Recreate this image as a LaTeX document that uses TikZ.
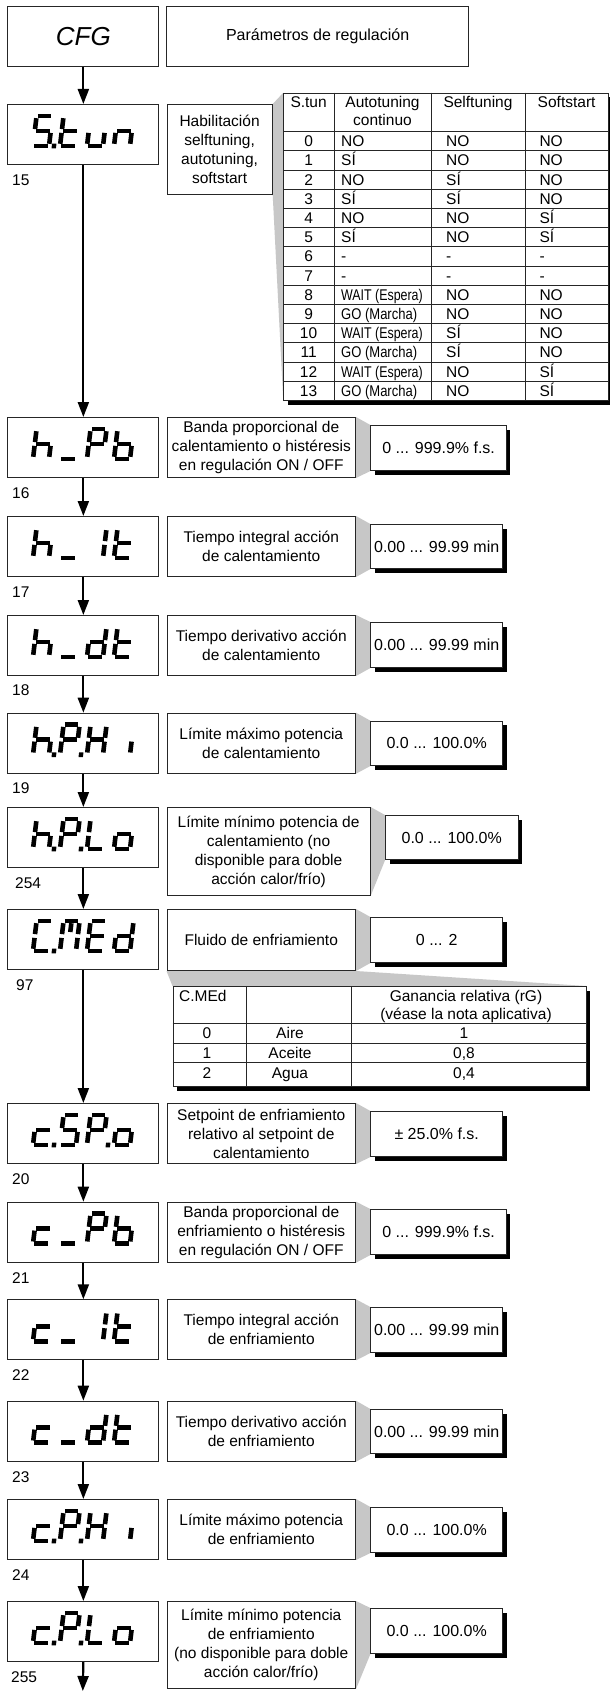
\documentclass[tikz,border=0pt]{standalone}
\usepackage{fontspec}
\usepackage{graphicx}
\setmainfont{Liberation Sans}
\usetikzlibrary{arrows.meta,shadows,backgrounds}

% seven-segment pieces (local y-up system, W=16, H=30)
\newcommand{\zzA}{\draw[segline] (1.3,30) -- (14.7,30);}
\newcommand{\zzB}{\draw[segline] (16,27.8) -- (16,16.9);}
\newcommand{\zzC}{\draw[segline] (16,13.1) -- (16,2.2);}
\newcommand{\zzD}{\draw[segline] (1.3,0) -- (14.7,0);}
\newcommand{\zzE}{\draw[segline] (0,2.2) -- (0,13.1);}
\newcommand{\zzF}{\draw[segline] (0,16.9) -- (0,27.8);}
\newcommand{\zzG}{\draw[segline] (1.3,15) -- (14.7,15);}
\newcommand{\zzM}{\draw[segline] (8,27.8) -- (8,19);}
\newcommand{\zzP}{\fill (18.8,-2.3) rectangle (23.2,2.3);}
% characters
\newcommand{\zcFive}{\zzA\zzF\zzG\zzC\zzD}
\newcommand{\zct}{\zzF\zzE\zzD\zzG}
\newcommand{\zcu}{\zzC\zzD\zzE}
\newcommand{\zcn}{\zzC\zzE\zzG}
\newcommand{\zch}{\zzF\zzE\zzG\zzC}
\newcommand{\zcus}{\zzD}
\newcommand{\zcP}{\zzA\zzB\zzF\zzG\zzE}
\newcommand{\zcb}{\zzF\zzE\zzD\zzC\zzG}
\newcommand{\zcI}{\zzB\zzC}
\newcommand{\zcd}{\zzB\zzC\zzD\zzE\zzG}
\newcommand{\zcH}{\zzB\zzC\zzE\zzF\zzG}
\newcommand{\zci}{\zzC}
\newcommand{\zcL}{\zzF\zzE\zzD}
\newcommand{\zco}{\zzC\zzD\zzE\zzG}
\newcommand{\zcC}{\zzA\zzF\zzE\zzD}
\newcommand{\zcM}{\zzA\zzB\zzC\zzE\zzF\zzM}
\newcommand{\zcE}{\zzA\zzF\zzG\zzE\zzD}
\newcommand{\zcc}{\zzG\zzE\zzD}

\newcommand{\zglyph}[3]{\begin{scope}[shift={(#1,#2)}]\begin{scope}[x=1pt,y=1pt,xslant=0.12]#3\end{scope}\end{scope}}
\newcommand{\zdisp}[5]{\zglyph{33}{#1+42}{#2}\zglyph{60}{#1+42}{#3}\zglyph{87}{#1+42}{#4}\zglyph{114}{#1+42}{#5}}

\newcommand{\zwait}{\scalebox{0.8}[1]{WAIT (Espera)}}
\newcommand{\zgo}{\scalebox{0.84}[1]{GO (Marcha)}}

\tikzset{
  segline/.style={line width=4.6pt, line cap=butt, black},
  disp/.style={draw=black!85, line width=1.1pt, fill=white, minimum width=151pt, minimum height=60pt, inner sep=0pt, anchor=north west},
  descbox/.style={draw=black!85, line width=1pt, fill=white, minimum width=188.5pt, minimum height=60pt, inner sep=0pt, anchor=north west, align=center, font=\fontsize{15.5}{19}\selectfont},
  valbox/.style={draw=black!85, line width=1pt, fill=white, minimum width=131.6pt, minimum height=45pt, inner sep=0pt, anchor=north west, font=\fontsize{16}{19}\selectfont, drop shadow={shadow xshift=4pt, shadow yshift=-4pt, opacity=1, fill=black}},
  tabframe/.style={draw=black!85, line width=1pt, fill=white, inner sep=0pt, anchor=north west, drop shadow={shadow xshift=4pt, shadow yshift=-4pt, opacity=1, fill=black}},
  tline/.style={line width=0.8pt, black!85},
  tcell/.style={font=\fontsize{15.5}{18}\selectfont, inner sep=0pt},
  flow/.style={line width=2.2pt, -{Triangle[length=15pt,width=11pt]}},
  wedge/.style={fill=black!22},
  numlab/.style={font=\fontsize{15.5}{18}\selectfont, anchor=west, inner sep=0pt}
}

\begin{document}
\begin{tikzpicture}[x=1pt,y=-1pt]
\useasboundingbox (0,0) rectangle (610,1691);
\begin{scope}[on background layer]
  \fill[white] (0,0) rectangle (610,1691);
\end{scope}

% ---------- header ----------
\node[disp, minimum height=59.7pt] (d0) at (7.3,6) {\fontsize{26}{30}\selectfont\itshape CFG};
\node[descbox, minimum width=302.3pt, minimum height=59.7pt, font=\fontsize{16}{19}\selectfont] (p0) at (166,6) {Parámetros de regulación};

% ---------- S.tun ----------
\node[disp] (d1) at (7.3,104) {};
\zdisp{104}{\zcFive\zzP}{\zct}{\zcu}{\zcn}
\node[numlab] (n1) at (12,180) {15};
\node[descbox, minimum width=105.2pt, minimum height=90pt] (e1) at (166.5,104) {Habilitación\\selftuning,\\autotuning,\\softstart};

% table 1
\node[tabframe, minimum width=325pt, minimum height=307.6pt] (t1) at (283.3,92.7) {};
\draw[tline] (334,92.7) -- (334,400.3);
\draw[tline] (431,92.7) -- (431,400.3);
\draw[tline] (525,92.7) -- (525,400.3);
\draw[tline] (283.3,131.5) -- (608.3,131.5);
\foreach \k in {1,...,13}{\draw[tline] (283.3,131.5+19.2*\k) -- (608.3,131.5+19.2*\k);}
\node[tcell, anchor=base] (h1a) at (308.6,107.3) {S.tun};
\node[tcell, anchor=base] (h1b) at (382.5,107.3) {Autotuning};
\node[tcell, anchor=base] (h1c) at (382.5,126) {continuo};
\node[tcell, anchor=base] (h1d) at (478,107.3) {Selftuning};
\node[tcell, anchor=base] (h1e) at (566.6,107.3) {Softstart};
\foreach \n/\a/\b/\c [count=\k from 0] in {0/NO/NO/NO, 1/SÍ/NO/NO, 2/NO/SÍ/NO, 3/SÍ/SÍ/NO, 4/NO/NO/SÍ, 5/SÍ/NO/SÍ, 6/-/-/-, 7/-/-/-, 8/\zwait/NO/NO, 9/\zgo/NO/NO, 10/\zwait/SÍ/NO, 11/\zgo/SÍ/NO, 12/\zwait/NO/SÍ, 13/\zgo/NO/SÍ}{
  \node[tcell, anchor=base] (ra\k) at (308.6,146.6+19.2*\k) {\n};
  \node[tcell, anchor=base west] (rb\k) at (341,146.6+19.2*\k) {\a};
  \node[tcell, anchor=base west] (rc\k) at (446,146.6+19.2*\k) {\b};
  \node[tcell, anchor=base west] (rd\k) at (539.3,146.6+19.2*\k) {\c};
}

% ---------- h_Pb ----------
\node[disp] (d2) at (7.3,417) {};
\zdisp{417}{\zch}{\zcus}{\zcP}{\zcb}
\node[numlab] (n2) at (12,493) {16};
\node[descbox] (e2) at (166.5,417) {Banda proporcional de\\calentamiento o histéresis\\en regulación ON / OFF};
\node[valbox, minimum width=135.4pt] (v2) at (370.4,425) {0 ... 999.9\% f.s.};

% ---------- h_It ----------
\node[disp] (d3) at (7.3,516) {};
\zdisp{516}{\zch}{\zcus}{\zcI}{\zct}
\node[numlab] (n3) at (12,592.5) {17};
\node[descbox] (e3) at (166.5,516) {Tiempo integral acción\\de calentamiento};
\node[valbox, minimum height=44pt] (v3) at (370.4,524) {0.00 ... 99.99 min};

% ---------- h_dt ----------
\node[disp] (d4) at (7.3,615) {};
\zdisp{615}{\zch}{\zcus}{\zcd}{\zct}
\node[numlab] (n4) at (12,690.5) {18};
\node[descbox] (e4) at (166.5,615) {Tiempo derivativo acción\\de calentamiento};
\node[valbox] (v4) at (370.4,622) {0.00 ... 99.99 min};

% ---------- h.P.Hi ----------
\node[disp] (d5) at (7.3,712.7) {};
\zdisp{712.7}{\zch\zzP}{\zcP\zzP}{\zcH}{\zci}
\node[numlab] (n5) at (12,788.5) {19};
\node[descbox] (e5) at (166.5,712.7) {Límite máximo potencia\\de calentamiento};
\node[valbox, minimum height=44.3pt] (v5) at (370.4,720.7) {0.0 ... 100.0\%};

% ---------- h.P.Lo ----------
\node[disp] (d6) at (7.3,807) {};
\zdisp{807}{\zch\zzP}{\zcP\zzP}{\zcL}{\zco}
\node[numlab] (n6) at (15,883) {254};
\node[descbox, minimum width=203.1pt, minimum height=88pt] (e6) at (166.5,807) {Límite mínimo potencia de\\calentamiento (no\\disponible para doble\\acción calor/frío)};
\node[valbox, minimum width=132.5pt, minimum height=44.3pt] (v6) at (385,815) {0.0 ... 100.0\%};

% ---------- C.MEd ----------
\node[disp] (d7) at (7.3,909) {};
\zdisp{909}{\zcC\zzP}{\zcM}{\zcE}{\zcd}
\node[numlab] (n7) at (16,985.5) {97};
\node[descbox, minimum height=61pt] (e7) at (166.5,909) {Fluido de enfriamiento};
\node[valbox] (v7) at (370.4,917) {0 ... 2};

% table 2
\node[tabframe, minimum width=413pt, minimum height=100pt] (t2) at (172.5,986) {};
\draw[tline] (246,986) -- (246,1086);
\draw[tline] (351,986) -- (351,1086);
\draw[tline] (172.5,1023.5) -- (585.5,1023.5);
\draw[tline] (172.5,1043) -- (585.5,1043);
\draw[tline] (172.5,1062.5) -- (585.5,1062.5);
\node[tcell, anchor=base west] (g1a) at (179,1001.5) {C.MEd};
\node[tcell, anchor=base] (g1c) at (466,1001.5) {Ganancia relativa (rG)};
\node[tcell, anchor=base] (g1d) at (466,1019.3) {(véase la nota aplicativa)};
\node[tcell, anchor=base] (g2a) at (207,1038.8) {0};
\node[tcell, anchor=base] (g2b) at (290,1038.8) {Aire};
\node[tcell, anchor=base] (g2c) at (464,1038.8) {1};
\node[tcell, anchor=base] (g3a) at (207,1058.2) {1};
\node[tcell, anchor=base] (g3b) at (290,1058.2) {Aceite};
\node[tcell, anchor=base] (g3c) at (464,1058.2) {0,8};
\node[tcell, anchor=base] (g4a) at (207,1078.2) {2};
\node[tcell, anchor=base] (g4b) at (290,1078.2) {Agua};
\node[tcell, anchor=base] (g4c) at (464,1078.2) {0,4};

% ---------- c.SP.o ----------
\node[disp] (d8) at (7.3,1103) {};
\zdisp{1103}{\zcc\zzP}{\zcFive}{\zcP\zzP}{\zco}
\node[numlab] (n8) at (12,1179.5) {20};
\node[descbox] (e8) at (166.5,1103) {Setpoint de enfriamiento\\relativo al setpoint de\\calentamiento};
\node[valbox] (v8) at (370.4,1111) {± 25.0\% f.s.};

% ---------- c_Pb ----------
\node[disp] (d9) at (7.3,1201.7) {};
\zdisp{1201.7}{\zcc}{\zcus}{\zcP}{\zcb}
\node[numlab] (n9) at (12,1277.7) {21};
\node[descbox] (e9) at (166.5,1201.7) {Banda proporcional de\\enfriamiento o histéresis\\en regulación ON / OFF};
\node[valbox, minimum width=135.4pt] (v9) at (370.4,1209) {0 ... 999.9\% f.s.};

% ---------- c_It ----------
\node[disp] (d10) at (7.3,1299.3) {};
\zdisp{1299.3}{\zcc}{\zcus}{\zcI}{\zct}
\node[numlab] (n10) at (12,1375.5) {22};
\node[descbox] (e10) at (166.5,1299.3) {Tiempo integral acción\\de enfriamiento};
\node[valbox] (v10) at (370.4,1307) {0.00 ... 99.99 min};

% ---------- c_dt ----------
\node[disp] (d11) at (7.3,1400.7) {};
\zdisp{1400.7}{\zcc}{\zcus}{\zcd}{\zct}
\node[numlab] (n11) at (12,1477) {23};
\node[descbox] (e11) at (166.5,1400.7) {Tiempo derivativo acción\\de enfriamiento};
\node[valbox, minimum height=44pt] (v11) at (370.4,1409) {0.00 ... 99.99 min};

% ---------- c.P.Hi ----------
\node[disp] (d12) at (7.3,1499) {};
\zdisp{1499}{\zcc\zzP}{\zcP\zzP}{\zcH}{\zci}
\node[numlab] (n12) at (12,1575.5) {24};
\node[descbox] (e12) at (166.5,1499) {Límite máximo potencia\\de enfriamiento};
\node[valbox] (v12) at (370.4,1507) {0.0 ... 100.0\%};

% ---------- c.P.Lo ----------
\node[disp] (d13) at (7.3,1601) {};
\zdisp{1601}{\zcc\zzP}{\zcP\zzP}{\zcL}{\zco}
\node[numlab] (n13) at (11,1677.5) {255};
\node[descbox, minimum height=87pt] (e13) at (166.5,1601) {Límite mínimo potencia\\de enfriamiento\\(no disponible para doble\\acción calor/frío)};
\node[valbox] (v13) at (370.4,1608) {0.0 ... 100.0\%};

\coordinate (fin) at (82.8,1691);

% ---------- connectors ----------
\draw[flow] (d0.south) -- (d1.north);
\draw[flow] (d1.south) -- (d2.north);
\draw[flow] (d2.south) -- (d3.north);
\draw[flow] (d3.south) -- (d4.north);
\draw[flow] (d4.south) -- (d5.north);
\draw[flow] (d5.south) -- (d6.north);
\draw[flow] (d6.south) -- (d7.north);
\draw[flow] (d7.south) -- (d8.north);
\draw[flow] (d8.south) -- (d9.north);
\draw[flow] (d9.south) -- (d10.north);
\draw[flow] (d10.south) -- (d11.north);
\draw[flow] (d11.south) -- (d12.north);
\draw[flow] (d12.south) -- (d13.north);
\draw[flow] (d13.south) -- (fin);

% ---------- callout wedges ----------
\begin{scope}[on background layer]
  \fill[wedge] (e1.north east) -- (t1.north west) -- (t1.south west) -- (e1.south east) -- cycle;
  \foreach \i in {2,3,4,5,6,7,8,9,10,11,12,13}{
    \fill[wedge] (e\i.north east) -- (v\i.north west) -- (v\i.south west) -- (e\i.south east) -- cycle;
  }
  \fill[wedge] (e7.south west) -- (e7.south east) -- (t2.north east) -- (t2.north west) -- cycle;
\end{scope}
\end{tikzpicture}
\end{document}
